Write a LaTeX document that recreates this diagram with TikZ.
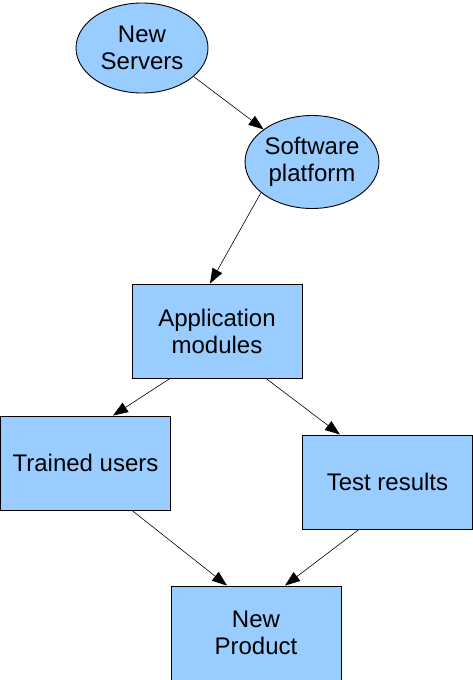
\documentclass[tikz,border=0pt]{standalone}
\usepackage{fontspec}
\setmainfont{Liberation Sans}
\usetikzlibrary{shapes.geometric,arrows.meta}
\definecolor{boxblue}{HTML}{99CCFF}
\begin{document}
\begin{tikzpicture}[x=1pt,y=-1pt,
            stage/.style = {draw, fill=boxblue, line width=0.9pt,
                inner sep=0pt, align=center,
                font=\fontsize{24}{27}\selectfont},
            oval/.style = {stage, ellipse},
            box/.style = {stage, rectangle,
                minimum width=170pt, minimum height=94pt},
            flow/.style = {line width=0.6pt,
                -{Triangle[length=15pt,width=11pt]}}]

        \useasboundingbox (0,0) rectangle (473,680);

        % Ovals
        \node[oval,minimum width=132pt,minimum height=90pt] (servers) at (142,48) {New\\Servers};
        \node[oval,minimum width=132pt,minimum height=93pt] (platform) at (312,162) {Software\\platform};

        % Boxes
        \node[box] (app) at (217,331) {Application\\modules};
        \node[box] (trained) at (85.5,463) {Trained users};
        \node[box] (test) at (387.5,482) {Test results};
        \node[box] (product) at (256,633) {New\\Product};

        % Arrows
        \draw[flow] (servers.-29) -- (platform.146);
        \draw[flow] (platform.211) -- ([xshift=-7pt]app.north);
        \draw[flow] ([xshift=-47pt]app.south) -- ([xshift=27.5pt]trained.north);
        \draw[flow] ([xshift=49pt]app.south) -- ([xshift=-47.5pt]test.north);
        \draw[flow] ([xshift=46.5pt]trained.south) -- ([xshift=-29pt]product.north);
        \draw[flow] ([xshift=-28.5pt]test.south) -- ([xshift=29pt]product.north);

        \end{tikzpicture}
\end{document}
